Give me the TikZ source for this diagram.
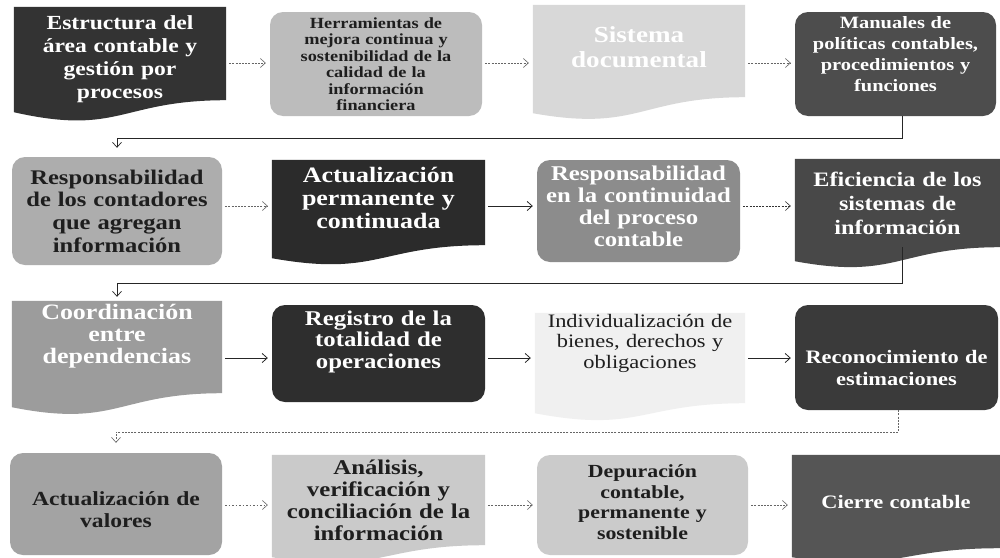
\documentclass[tikz,border=0pt]{standalone}
\usepackage{fontspec}
\setmainfont{Liberation Serif}[FakeStretch=1.18]
\usetikzlibrary{arrows.meta,backgrounds,calc}
\definecolor{c1}{HTML}{333333}
\definecolor{c2}{HTML}{BCBCBC}
\definecolor{c3}{HTML}{D8D8D8}
\definecolor{c4}{HTML}{4D4D4D}
\definecolor{c5}{HTML}{ADADAD}
\definecolor{c6}{HTML}{2B2B2B}
\definecolor{c7}{HTML}{8C8C8C}
\definecolor{c8}{HTML}{484848}
\definecolor{c9}{HTML}{9C9C9C}
\definecolor{c10}{HTML}{2E2E2E}
\definecolor{c11}{HTML}{F0F0F0}
\definecolor{c12}{HTML}{3A3A3A}
\definecolor{c13}{HTML}{A3A3A3}
\definecolor{c14}{HTML}{CACACA}
\definecolor{c15}{HTML}{CBCBCB}
\definecolor{c16}{HTML}{555555}
\definecolor{darktext}{HTML}{1E1E1E}
\newcommand{\fz}[2]{\fontsize{#1}{#2}\selectfont}
\newcommand\docfill[4]{%
  \fill[#2] (#1.north west) -- (#1.north east) -- (#1.south east)
    .. controls (#1.south) and ($(#1.south)+(0,#4)$) .. ($(#1.south west)+(0,#3)$) -- cycle;}
\tikzset{
  box/.style={inner sep=0pt, align=center},
  rbox/.style={box, rounded corners=13pt},
  txtup/.style={execute at end node={\par\vspace*{#1}}},
  arrlight/.style={draw=black!60, line width=0.6pt, dash pattern=on 2pt off 1.2pt,
    -{Straight Barb[length=5pt,width=9pt]}, shorten <=3pt, shorten >=4pt},
  arrdark/.style={draw=black!85, line width=0.8pt,
    -{Straight Barb[length=5pt,width=9pt]}, shorten <=3pt, shorten >=4pt},
}
\begin{document}
\begin{tikzpicture}[x=1pt,y=-1pt]
\useasboundingbox (0,0) rectangle (1000,557);
% row coordinates
\coordinate (r1) at (0,63);
\coordinate (r2) at (0,206);
\coordinate (r3) at (0,358);
\coordinate (r4) at (0,505);
\coordinate (k1) at (0,138);
\coordinate (k2) at (0,283);
\coordinate (k3) at (0,432);
% row 1
\node[box, minimum width=212, minimum height=93, text width=212, text=white, txtup=-12pt,
  font={\bfseries\fz{20}{23}}] (b1) at (120,53.5)
  {Estructura del\\área contable y\\gestión por\\procesos};
\node[rbox, fill=c2, minimum width=212, minimum height=104, text width=212, text=darktext,
  font={\bfseries\fz{15.5}{16.5}}] (b2) at (376,64)
  {Herramientas de\\mejora continua y\\sostenibilidad de la\\calidad de la\\información\\financiera};
\node[box, minimum width=212, minimum height=92, text width=212, text=white, txtup=8pt,
  font={\bfseries\fz{23}{25}}] (b3) at (639,51)
  {Sistema\\documental};
\node[rbox, fill=c4, minimum width=201, minimum height=104, text width=201, text=white, txtup=20pt,
  font={\bfseries\fz{17.3}{21}}] (b4) at (895.5,64)
  {Manuales de\\políticas contables,\\procedimientos y\\funciones};
% row 2
\node[rbox, fill=c5, minimum width=210, minimum height=108, text width=210, text=darktext,
  font={\bfseries\fz{20.8}{22.7}}] (b5) at (117,211)
  {Responsabilidad\\de los contadores\\que agregan\\información};
\node[box, minimum width=213, minimum height=85, text width=213, text=white, txtup=10pt,
  font={\bfseries\fz{22}{23}}] (b6) at (378.5,202.5)
  {Actualización\\permanente y\\continuada};
\node[rbox, fill=c7, minimum width=203, minimum height=102, text width=203, text=white, txtup=10pt,
  font={\bfseries\fz{21}{22}}] (b7) at (638.5,211)
  {Responsabilidad\\en la continuidad\\del proceso\\contable};
\node[box, minimum width=205, minimum height=88, text width=205, text=white,
  font={\bfseries\fz{20.5}{24}}] (b8) at (897.5,203)
  {Eficiencia de los\\sistemas de\\información};
% row 3
\node[box, minimum width=210, minimum height=92, text width=210, text=white, txtup=22pt,
  font={\bfseries\fz{22}{22}}] (b9) at (117,347)
  {Coordinación\\entre\\dependencias};
\node[rbox, fill=c10, minimum width=213, minimum height=97, text width=213, text=white, txtup=24pt,
  font={\bfseries\fz{21}{21.5}}] (b10) at (378.5,353.5)
  {Registro de la\\totalidad de\\operaciones};
\node[box, minimum width=210, minimum height=90, text width=210, text=darktext, txtup=30pt,
  font={\fz{19}{20.5}}] (b11) at (640,358)
  {Individualización de\\bienes, derechos y\\obligaciones};
\node[rbox, fill=c12, minimum width=203, minimum height=105, text width=203, text=white, txtup=-20pt,
  font={\bfseries\fz{19}{22}}] (b12) at (896.5,357.5)
  {Reconocimiento de\\estimaciones};
% row 4
\node[rbox, fill=c13, minimum width=212, minimum height=102, text width=212, text=darktext, txtup=-12pt,
  font={\bfseries\fz{20}{22}}] (b13) at (116,504)
  {Actualización de\\valores};
\node[box, minimum width=213, minimum height=90, text width=213, text=darktext,
  font={\bfseries\fz{21}{22}}] (b14) at (378.5,500)
  {Análisis,\\verificación y\\conciliación de la\\información};
\node[rbox, fill=c15, minimum width=211, minimum height=100, text width=211, text=darktext, txtup=6pt,
  font={\bfseries\fz{18.5}{20.5}}] (b15) at (642.5,505)
  {Depuración\\contable,\\permanente y\\sostenible};
\node[box, minimum width=208, minimum height=93, text width=208, text=white,
  font={\bfseries\fz{19}{20}}] (b16) at (896,501.5)
  {Cierre contable};
% document shapes
\begin{scope}[on background layer]
  \fill[white] (0,0) rectangle (1000,557);
  \docfill{b1}{c1}{12}{36}
  \docfill{b3}{c3}{16}{35}
  \docfill{b6}{c6}{13}{32}
  \docfill{b8}{c8}{14}{33}
  \docfill{b9}{c9}{14}{35}
  \docfill{b11}{c11}{10}{30}
  \docfill{b14}{c14}{12}{30}
  \docfill{b16}{c16}{9}{25}
\end{scope}
% row arrows
\draw[arrlight] (b1.east |- r1) -- (b2.west |- r1);
\draw[arrlight] (b2.east |- r1) -- (b3.west |- r1);
\draw[arrlight] (b3.east |- r1) -- (b4.west |- r1);
\draw[arrlight] (b5.east |- r2) -- (b6.west |- r2);
\draw[arrdark] (b6.east |- r2) -- (b7.west |- r2);
\draw[arrlight, draw=black!80] (b7.east |- r2) -- (b8.west |- r2);
\draw[arrdark] (b9.east |- r3) -- (b10.west |- r3);
\draw[arrdark] (b10.east |- r3) -- (b11.west |- r3);
\draw[arrdark] (b11.east |- r3) -- (b12.west |- r3);
\draw[arrlight, dash pattern=on 1.5pt off 2pt] (b13.east |- r4) -- (b14.west |- r4);
\draw[arrlight] (b14.east |- r4) -- (b15.west |- r4);
\draw[arrlight] (b15.east |- r4) -- (b16.west |- r4);
% row-to-row connectors
\draw[arrdark, line width=0.7pt, shorten <=0pt, shorten >=9pt]
  ([xshift=7pt]b4.south) -- ([xshift=7pt]b4.south |- k1) -| (b5.north);
\draw[arrdark, line width=0.7pt, shorten <=0pt, shorten >=4pt]
  ([xshift=5pt]b8.south) -- ([xshift=5pt]b8.south |- k2) -| (b9.north);
\draw[arrlight, shorten <=0pt, shorten >=10pt]
  ([xshift=2pt]b12.south) -- ([xshift=2pt]b12.south |- k3) -| (b13.north);
\end{tikzpicture}
\end{document}
